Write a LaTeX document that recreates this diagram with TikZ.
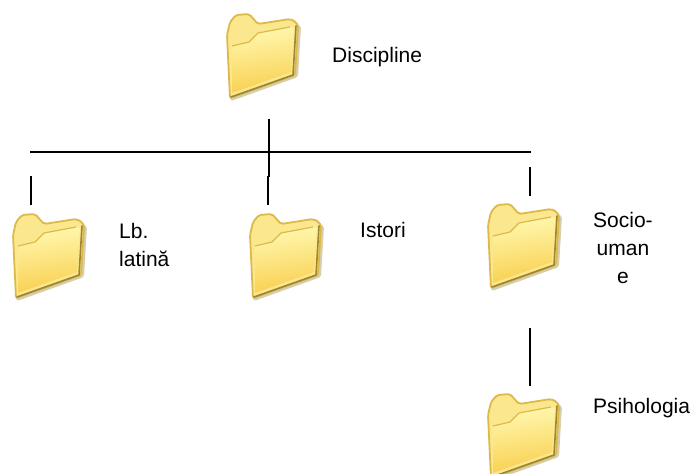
\documentclass[tikz,border=0pt]{standalone}
\usepackage{fontspec}
\setmainfont{Liberation Sans}
\definecolor{folderback}{HTML}{FBE88E}
\definecolor{folderedge}{HTML}{DDB948}
\definecolor{foldershade}{HTML}{9C8534}
\definecolor{folderlight}{HTML}{FFF8B0}
\definecolor{folderdeep}{HTML}{F9CF4E}
\tikzset{
	treeline/.style={draw=black, line width=1.2pt},
	label/.style={font=\fontsize{21}{28}\selectfont, anchor=west, align=left, inner sep=0pt},
	folder/.pic={
		% soft shadow on the right and lower side
		\fill[foldershade!40!white, rounded corners=2pt] (66, 9) -- (74, 13) -- (71, 64) -- (4, 88) -- (1, 80) -- cycle;
		% silhouette with the tab
		\filldraw[fill=folderback, draw=folderedge, line width=1.8pt, line join=round, rounded corners=2pt]
			(0, 22) -- (3, 9) -- (9, 2) -- (22, 1) -- (31, 11) -- (63, 6) -- (69, 9) -- (71, 13) -- (68, 62) -- (3, 85) -- cycle;
		% front panel
		\shade[top color=folderlight, bottom color=folderdeep, shading angle=8]
			(5, 33) -- (22, 29) -- (31, 20) -- (63, 14) -- (67, 15) -- (64, 59) -- (5, 80) -- cycle;
		\draw[folderedge, line width=1.2pt, line join=round]
			(5, 33) -- (22, 29) -- (31, 20) -- (63, 14);
		\draw[foldershade, line width=1.6pt, line cap=round, line join=round]
			(69, 13) -- (66, 62) -- (4, 84);
	},
}
\begin{document}
\begin{tikzpicture}[x=1pt, y=-1pt]
	\useasboundingbox (0, 0) rectangle (691, 474);
	% folders
	\pic at (227, 13) {folder};
	\pic at (13, 213) {folder};
	\pic at (250, 213) {folder};
	\pic at (488, 203) {folder};
	\pic at (488, 393) {folder};
	% labels
	\node[label] (discipline) at (332, 57) {Discipline};
	\node[label] (latina) at (119, 245) {Lb.\\latină};
	\node[label] (istori) at (360, 230) {Istori};
	\node[label, align=center] (socio) at (593, 248) {Socio-\\uman\\e};
	\node[label] (psihologia) at (593, 408) {Psihologia};
	% free ends of the tree lines
	\coordinate (trunktop) at (269, 119);
	\coordinate (trunkbar) at (269, 177);
	\coordinate (barleft) at (30, 152);
	\coordinate (barright) at (531, 152);
	\coordinate (latinatop) at (31, 176);
	\coordinate (latinabot) at (31, 205);
	\coordinate (istoritop) at (268, 176);
	\coordinate (istoribot) at (268, 205);
	\coordinate (sociotop) at (530, 167);
	\coordinate (sociobot) at (530, 196);
	\coordinate (psihotop) at (530, 328);
	\coordinate (psihobot) at (530, 386);
	% tree lines
	\draw[treeline] (trunktop) -- (trunkbar);
	\draw[treeline] (barleft) -- (barright);
	\draw[treeline] (latinatop) -- (latinabot);
	\draw[treeline] (istoritop) -- (istoribot);
	\draw[treeline] (sociotop) -- (sociobot);
	\draw[treeline] (psihotop) -- (psihobot);
\end{tikzpicture}
\end{document}
